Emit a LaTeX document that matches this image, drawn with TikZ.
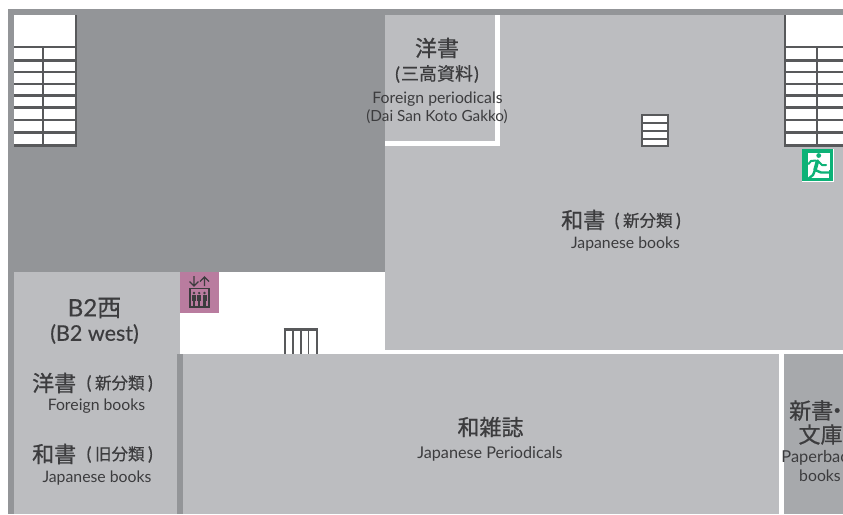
\documentclass[tikz,border=0pt]{standalone}
\usepackage{fontspec}
\setmainfont{Lato}
\newfontfamily\cjk[FakeBold=0.8]{Noto Sans CJK JP}
\newfontfamily\cjkm[FakeBold=0.5]{Noto Sans CJK JP}
\newfontfamily\heavy[FakeBold=0.4]{Lato}
\definecolor{frame}{HTML}{939598}
\definecolor{room}{HTML}{BCBDC0}
\definecolor{paper}{HTML}{A7A9AC}
\definecolor{ink}{HTML}{3C3C3E}
\definecolor{stairline}{HTML}{58595B}
\definecolor{lift}{HTML}{B97C9F}
\definecolor{exitgreen}{HTML}{0DB277}
\newcommand{\fs}[1]{\fontsize{#1}{#1}\selectfont}
\newcommand{\po}{{\heavy\fs{18}(}\kern3.5pt}
\newcommand{\pc}{\kern3.5pt{\heavy\fs{18})}}
\tikzset{
  x=1pt,y=-1pt,
  lbl/.style={inner sep=0,text=ink,align=center},
  big/.style={lbl,font=\cjk\fs{22}},
  mid/.style={lbl,font=\cjkm\fs{16.5}},
  en/.style={lbl,font=\fs{15.8}},
  stairl/.style={draw=stairline,line width=1.6pt},
  stairh/.style={draw=stairline,line width=2.2pt},
}
\begin{document}
\begin{tikzpicture}
\useasboundingbox (0,0) rectangle (843,514);
\fill[white] (0,0) rectangle (843,514);
\fill[frame] (8,9) rectangle (843,514);
% rooms
\fill[room] (14,272) rectangle (180,514);
\fill[room] (385,15) rectangle (843,350);
\fill[white] (180,272) rectangle (385,354);
\fill[lift] (180,272) rectangle (219,313);
\fill[frame] (177,354) rectangle (183,514);
\fill[room] (183,354) rectangle (779,514);
\fill[paper] (784,354) rectangle (843,514);
\fill[white] (385,350) rectangle (843,354);
\fill[white] (779,350) rectangle (784,514);
\fill[white] (495,15) rectangle (500,146);
\fill[white] (385,141) rectangle (500,146);
% left stairs
\fill[white] (14,15) rectangle (76,145);
\foreach \yy in {47,60.5,72,84,95.5,107.5,120,132.5}
  \draw[stairh] (14,\yy) -- (76,\yy);
\draw[stairl] (43.2,47) -- (43.2,145);
\draw[stairh] (76,15) -- (76,145.5) -- (14,145.5);
% right stairs
\fill[white] (785,15) rectangle (843,145);
\foreach \yy in {47,60.5,72,84,95.5,107.5,120,132.5}
  \draw[stairh] (785,\yy) -- (843,\yy);
\draw[stairl] (817,47) -- (817,145);
\draw[stairh] (785,15) -- (785,145.5) -- (843,145.5);
% small stairs
\fill[white] (642,115) rectangle (668,147);
\draw[stairh] (642,115) rectangle (668,146);
\foreach \yy in {123,131,138.7}
  \draw[stairh] (642,\yy) -- (668,\yy);
% lower stairs
\draw[stairh] (283.5,329.5) -- (318,329.5);
\foreach \xx in {285,292.8,300.7,308.5,316.7}
  \draw[stairl] (\xx,329.5) -- (\xx,354);
% exit sign
\fill[white] (802,149) rectangle (834,182);
\fill[exitgreen] (802,149) rectangle (833,181);
\fill[white] (808,153) rectangle (830,178);
\fill[exitgreen] (818.7,155.5) circle (2.4);
\draw[exitgreen,line width=3.6pt,line cap=round] (817.5,161) -- (815,170);
\draw[exitgreen,line width=2pt,line cap=round,line join=round] (816,160.5) -- (811,161) -- (808.5,164);
\draw[exitgreen,line width=2pt,line cap=round,line join=round] (818,161) -- (822,165) -- (826,165);
\draw[exitgreen,line width=2.4pt,line cap=round,line join=round] (815,170) -- (821,172.5) -- (829,172.5);
\draw[exitgreen,line width=2.4pt,line cap=round,line join=round] (815,170) -- (813,175) -- (808,179);
\fill[exitgreen] (829,170) rectangle (833,181);
% lift icon
\draw[ink,line width=1.4pt] (190,288.5) rectangle (209,307);
\draw[ink,line width=1.4pt] (194,276) -- (194,286) (189.5,281.5) -- (194,286) -- (198.5,281.5);
\draw[ink,line width=1.2pt] (204.5,286) -- (204.5,277) (200,281.5) -- (204.5,277) -- (209,281.5);
\foreach \xx in {194,199.2,204.5}{
  \fill[ink] (\xx,293) circle (1.3);
  \fill[ink] (\xx-2,295) rectangle (\xx+2,300.5);
  \fill[ink] (\xx-1.2,300) rectangle (\xx+1.2,305.5);
}
% labels
\node[big] (n1) at (437,48) {洋書};
\node[lbl,font=\cjkm\fs{18}] (n2) at (437,74) {{\heavy\fs{18}(}\kern1pt 三高資料\kern1pt{\heavy\fs{18})}};
\node[en] (n3) at (437.5,99) {Foreign periodicals};
\node[lbl,font=\fs{15.3}] (n4) at (437,116.5) {(Dai San Koto Gakko)};
\node[big,anchor=west] (n5) at (561,220) {和書};
\node[mid,anchor=east] (n6) at (681,221) {\po 新分類\pc};
\node[en] (n7) at (625.5,244) {Japanese books};
\node[lbl,font=\heavy\fs{24}] (n8) at (94.5,308) {B2{\cjkm 西}};
\node[lbl,font=\heavy\fs{21.5}] (n9) at (94.5,334) {(B2 west)};
\node[big,anchor=west] (n10) at (32,383) {洋書};
\node[mid,anchor=east] (n11) at (153,383.5) {\po 新分類\pc};
\node[en] (n12) at (96.5,406) {Foreign books};
\node[big,anchor=west] (n13) at (32,454) {和書};
\node[mid,anchor=east] (n14) at (153,454.5) {\po 旧分類\pc};
\node[en] (n15) at (97,478) {Japanese books};
\node[big] (n16) at (490.5,427) {和雑誌};
\node[lbl,font=\fs{16.2}] (n17) at (490,454) {Japanese Periodicals};
\node[big,anchor=west] (n18) at (789,410.5) {新書\kern-7pt・};
\node[big] (n19) at (820.5,434.5) {文庫};
\node[lbl,font=\fs{16.4}] (n20) at (819,458) {Paperback};
\node[en] (n21) at (820,476) {books};
\end{tikzpicture}
\end{document}
